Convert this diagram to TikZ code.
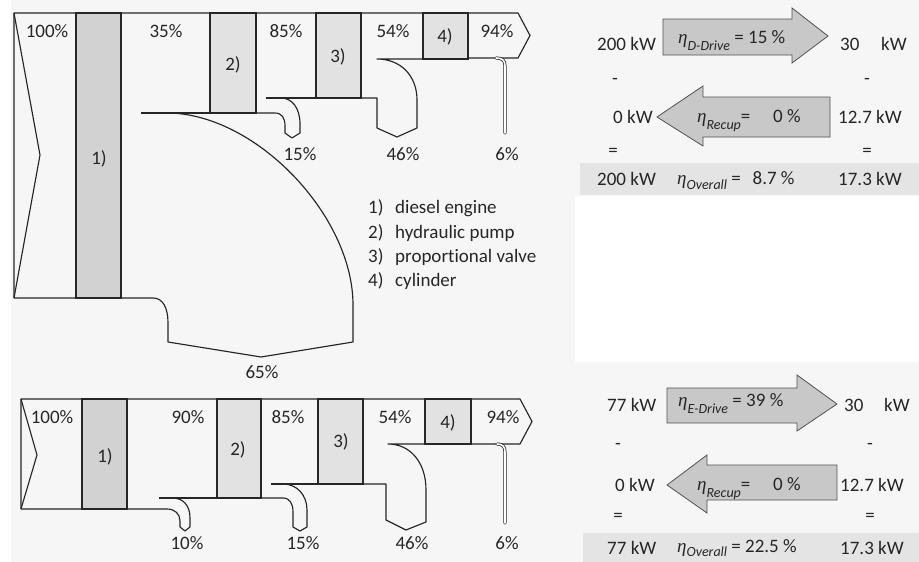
\documentclass[tikz,border=0pt]{standalone}
\usepackage{fontspec}
\setmainfont{Carlito}[Ligatures={CommonOff,ContextualOff}]
\newfontfamily\etafont{Liberation Serif}
\definecolor{bgpanel}{HTML}{F6F6F6}
\definecolor{blockdark}{HTML}{D2D2D2}
\definecolor{blocklight}{HTML}{E2E2E2}
\definecolor{arrowfill}{HTML}{C8C8C8}
\definecolor{barfill}{HTML}{E4E4E4}
\definecolor{ink}{HTML}{262626}
% efficiency symbol with an italic subscript (optional argument: how far it drops)
\newcommand{\effsym}[2][7pt]{{\etafont\itshape η}\raisebox{-#1}{\fontsize{14}{14}\selectfont\itshape #2}}
\tikzset{
  flow/.style={draw=ink, line width=1.15pt, line join=round},
  thinloss/.style={draw=ink, line width=0.75pt, line cap=round, double=white, double distance=1.6pt},
  blockA/.style={draw=ink, line width=1.3pt, fill=blockdark},
  blockB/.style={draw=ink, line width=1.3pt, fill=blocklight},
  effarrow/.style={draw=ink!80, line width=0.8pt, fill=arrowfill, line join=miter},
  lbl/.style={inner sep=0pt, text=ink, font=\fontsize{19}{23}\selectfont},
  bl/.style={lbl, anchor=base west},
  bc/.style={lbl, anchor=base},
}
\begin{document}
\begin{tikzpicture}[x=1pt, y=-1pt]
\useasboundingbox (0,0) rectangle (919,562);
% panel backgrounds
\fill[white] (0,0) rectangle (919,562);
\fill[bgpanel] (11,0) rectangle (919,562);
\fill[white] (575,196) rectangle (919,362);

% ================= upper Sankey chart (diesel drive) =================
% main band with notched inlet and arrow outlet
\draw[flow] (14,298) -- (14,13) -- (518,13) -- (530,35.5) -- (518,58) -- (468,58);
\draw[flow] (14,13) -- (40,155) -- (14,298);
% 65 % loss of the diesel engine
\draw[flow] (14,298) -- (153,298) .. controls (163,298) and (168,308) .. (168,323)
  -- (168,342) -- (261,357) -- (353,342) -- (353,305)
  .. controls (353,215) and (255,113) .. (167,113);
\draw[flow] (141,113) -- (210,113);
% 15 % loss of the pump
\draw[flow] (256,113) -- (275,113) .. controls (282,113) and (285,118) .. (285,126)
  -- (285,133) -- (292,138) -- (300,133) -- (300,124)
  .. controls (300,108) and (292,98) .. (281,98);
\draw[flow] (266,98) -- (316,98);
% 46 % loss of the valve
\draw[flow] (361,98) -- (377,98) -- (377,128) -- (397,137) -- (417,128) -- (417,100)
  .. controls (417,75) and (400,59) .. (377,59) -- (423,59);
% 6 % loss of the cylinder
\draw[thinloss] (496,58) .. controls (502,58) and (505,60) .. (505,66) -- (505,133);
% components
\draw[blockA] (76,13) rectangle (121,298);
\draw[blockB] (210,13) rectangle (256,113);
\draw[blockB] (316,13) rectangle (361,98);
\draw[blockB] (423,13) rectangle (468,59);
\node[lbl] (tb1) at (99,159) {1)};
\node[lbl] (tb2) at (233,65) {2)};
\node[lbl] (tb3) at (338,57) {3)};
\node[lbl] (tb4) at (445,37) {4)};
% shares
\node[lbl] (tp100) at (47,31) {100\%};
\node[lbl] (tp35) at (166,31) {35\%};
\node[lbl] (tp85) at (286,31) {85\%};
\node[lbl] (tp54) at (393,31) {54\%};
\node[lbl] (tp94) at (497,31) {94\%};
\node[lbl] (tl15) at (300,154) {15\%};
\node[lbl] (tl46) at (403,154) {46\%};
\node[lbl] (tl6) at (507,154) {6\%};
\node[lbl] (tl65) at (262,372) {65\%};
% legend
\node[bl] (lg1n) at (368,213) {1)};
\node[bl] (lg1) at (395,213) {diesel engine};
\node[bl] (lg2n) at (368,238) {2)};
\node[bl] (lg2) at (395,238) {hydraulic pump};
\node[bl] (lg3n) at (368,262) {3)};
\node[bl] (lg3) at (395,262) {propor\kern0pt tional valve};
\node[bl] (lg4n) at (368,286) {4)};
\node[bl] (lg4) at (395,286) {cylinder};

% ================= lower Sankey chart (electric drive) =================
\draw[flow] (21,509) -- (21,399) -- (520,399) -- (532,421.5) -- (520,444) -- (471,444);
\draw[flow] (21,399) -- (37,455) -- (21,509);
% 10 % loss of the electric motor
\draw[flow] (21,509) -- (167,509) .. controls (175,509) and (180,514) .. (180,521)
  -- (180,527) -- (185,531) -- (190,527) -- (190,518)
  .. controls (190,505) and (183,498) .. (172,498);
\draw[flow] (159,498) -- (217,498);
% 15 % loss of the pump
\draw[flow] (261,498) -- (283,498) .. controls (290,498) and (293,504) .. (293,512)
  -- (293,527) -- (300,531) -- (307,527) -- (307,510)
  .. controls (307,495) and (297,484) .. (283,484);
\draw[flow] (271,484) -- (318,484);
% 46 % loss of the valve
\draw[flow] (363,484) -- (386,484) -- (386,520) -- (406,530) -- (426,522) -- (426,490)
  .. controls (426,462) and (410,444) .. (388,444) -- (425,444);
% 6 % loss of the cylinder
\draw[thinloss] (497,444) .. controls (502,444) and (505,446) .. (505,452) -- (505,523);
% components
\draw[blockA] (82,399) rectangle (127,509);
\draw[blockB] (217,399) rectangle (261,498);
\draw[blockB] (318,399) rectangle (363,484);
\draw[blockB] (425,399) rectangle (471,444);
\node[lbl] (bb1) at (105,457) {1)};
\node[lbl] (bb2) at (238,450) {2)};
\node[lbl] (bb3) at (341,442) {3)};
\node[lbl] (bb4) at (448,423) {4)};
\node[lbl] (bp100) at (52,417) {100\%};
\node[lbl] (bp90) at (188,417) {90\%};
\node[lbl] (bp85) at (288,417) {85\%};
\node[lbl] (bp54) at (395,417) {54\%};
\node[lbl] (bp94) at (503,417) {94\%};
\node[lbl] (bl10) at (187,543) {10\%};
\node[lbl] (bl15) at (303,543) {15\%};
\node[lbl] (bl46) at (412,543) {46\%};
\node[lbl] (bl6) at (507,543) {6\%};

% ================= upper energy balance =================
\draw[effarrow] (663,19) -- (792,19) -- (792,8) -- (828,36) -- (792,63) -- (792,55) -- (663,55) -- cycle;
\draw[effarrow] (830,97) -- (703,97) -- (703,86) -- (657,117) -- (703,146) -- (703,137) -- (830,137) -- cycle;
\fill[barfill] (580,163) rectangle (919,195);
\node[bl] (dIn) at (597,50) {200 kW};
\node[bl] (dEff) at (678,43) {\effsym{D-Drive} = 15 \%};
\node[bl] (dOutA) at (840,50) {30};
\node[bl] (dOutB) at (881,50) {kW};
\node[bc] (dM1) at (615,84) {-};
\node[bc] (dM2) at (867,84) {-};
\node[bl] (dRec) at (613,123) {0 kW};
\node[bl] (dRecEff) at (697,122) {\effsym{Recup}=};
\node[bl] (dRecVal) at (773,122) {0 \%};
\node[bl] (dBack) at (838,123) {12.7 kW};
\node[bc] (dE1) at (613,156) {=};
\node[bc] (dE2) at (867,156) {=};
\node[bl] (dTot) at (597,185) {200 kW};
\node[bl] (dTotEff) at (677,184) {\effsym[5pt]{Overall} = \ \,8.7 \%};
\node[bl] (dNet) at (838,185) {17.3 kW};

% ================= lower energy balance =================
\draw[effarrow] (667,388) -- (797,388) -- (797,375) -- (837,404) -- (797,431) -- (797,423) -- (667,423) -- cycle;
\draw[effarrow] (837,465) -- (707,465) -- (707,455) -- (667,485) -- (707,513) -- (707,500) -- (837,500) -- cycle;
\fill[barfill] (583,533) rectangle (919,562);
\node[bl] (eIn) at (607,411) {77 kW};
\node[bl] (eEff) at (678,406) {\effsym{E-Drive} = 39 \%};
\node[bl] (eOutA) at (844,411) {30};
\node[bl] (eOutB) at (884,411) {kW};
\node[bc] (eM1) at (618,449) {-};
\node[bc] (eM2) at (870,449) {-};
\node[bl] (eRec) at (615,491) {0 kW};
\node[bl] (eRecEff) at (697,490) {\effsym{Recup}=};
\node[bl] (eRecVal) at (773,490) {0 \%};
\node[bl] (eBack) at (840,491) {12.7 kW};
\node[bc] (eE1) at (618,521) {=};
\node[bc] (eE2) at (870,521) {=};
\node[bl] (eTot) at (607,554) {77 kW};
\node[bl] (eTotEff) at (677,552) {\effsym[4pt]{Overall} = 22.5 \%};
\node[bl] (eNet) at (840,554) {17.3 kW};
\end{tikzpicture}
\end{document}
